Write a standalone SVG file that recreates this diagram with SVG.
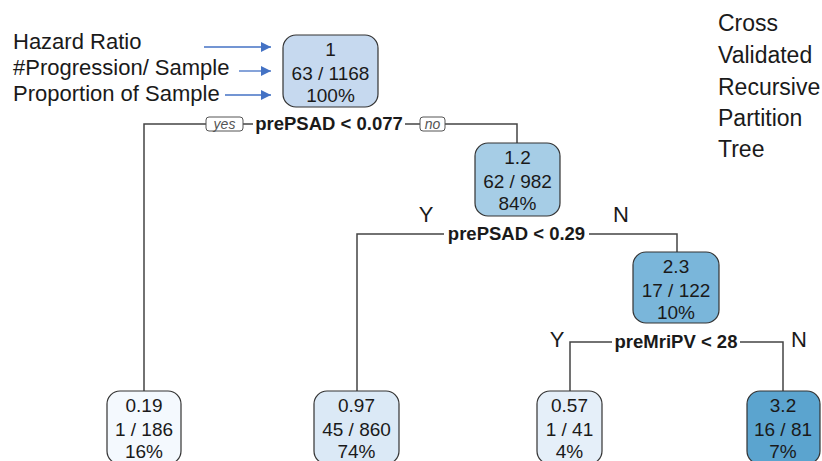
<svg xmlns="http://www.w3.org/2000/svg" width="822" height="461" viewBox="0 0 822 461">
<defs>
<marker id="ah" viewBox="0 0 10 10" refX="10" refY="5" markerWidth="10" markerHeight="10" markerUnits="userSpaceOnUse" orient="auto">
<path d="M0,0 L10,5 L0,10 z" fill="#4472C4"/>
</marker>
<style>
text{font-family:"Liberation Sans",Arial,sans-serif;fill:#1a1a1a}
.lbl{font-size:22px}
.ttl{font-size:23px}
.nt{font-size:19px;text-anchor:middle}
.sp{font-size:18.5px;font-weight:bold;text-anchor:middle}
.yn{font-size:14px;font-style:italic;text-anchor:middle;fill:#555}
.ybox{fill:#fff;stroke:#555;stroke-width:1}
.box{stroke:#333;stroke-width:1.2}
.con{stroke:#444;stroke-width:1.5;fill:none}
.arr{stroke:#4472C4;stroke-width:1.3;marker-end:url(#ah)}
</style>
</defs>
<rect width="822" height="461" fill="#fff"/>
<g id="legend">
<text class="lbl" x="13" y="49">Hazard Ratio</text>
<text class="lbl" x="13" y="75">#Progression/ Sample</text>
<text class="lbl" x="13" y="101">Proportion of Sample</text>
<line class="arr" x1="204" y1="47" x2="271" y2="47"/>
<line class="arr" x1="239" y1="71" x2="271" y2="71"/>
<line class="arr" x1="225" y1="95" x2="271" y2="95"/>
</g>
<g id="title">
<text class="ttl" x="718" y="31">Cross</text>
<text class="ttl" x="718" y="63">Validated</text>
<text class="ttl" x="718" y="95">Recursive</text>
<text class="ttl" x="718" y="126">Partition</text>
<text class="ttl" x="718" y="157">Tree</text>
</g>
<g id="connectors">
<path class="con" d="M144,391 V124 H206 M243,124 H253 M405,124 H420 M445,124 H517 V143"/>
<path class="con" d="M357,391 V234 H444 M589,234 H677 V252"/>
<path class="con" d="M570,391 V342 H612 M740,342 H783 V391"/>
<rect class="ybox" x="206" y="117" width="37" height="14" rx="3"/>
<text class="yn" x="224.5" y="129">yes</text>
<rect class="ybox" x="420" y="117" width="25" height="14" rx="3"/>
<text class="yn" x="432.5" y="129">no</text>
<text class="sp" x="329" y="130">prePSAD &lt; 0.077</text>
<text class="sp" x="516.5" y="240">prePSAD &lt; 0.29</text>
<text class="sp" x="676" y="348">preMriPV &lt; 28</text>
<text class="lbl" x="426" y="222" text-anchor="middle">Y</text>
<text class="lbl" x="621" y="222" text-anchor="middle">N</text>
<text class="lbl" x="557" y="347" text-anchor="middle">Y</text>
<text class="lbl" x="799" y="347" text-anchor="middle">N</text>
</g>
<g id="node1">
<rect class="box" x="283" y="35" width="95" height="72" rx="13" fill="#c6d9ef"/>
<text class="nt" x="330.5" y="56">1</text>
<text class="nt" x="330.5" y="80">63 / 1168</text>
<text class="nt" x="330.5" y="102">100%</text>
</g>
<g id="node2">
<rect class="box" x="475" y="143" width="85" height="73" rx="13" fill="#a6cde6"/>
<text class="nt" x="517.5" y="164">1.2</text>
<text class="nt" x="517.5" y="188">62 / 982</text>
<text class="nt" x="517.5" y="210">84%</text>
</g>
<g id="node3">
<rect class="box" x="633" y="252" width="86" height="71" rx="13" fill="#7ab6da"/>
<text class="nt" x="676" y="273">2.3</text>
<text class="nt" x="676" y="297">17 / 122</text>
<text class="nt" x="676" y="319">10%</text>
</g>
<g id="leaf1">
<rect class="box" x="107" y="391" width="74" height="73" rx="13" fill="#f4f9fe"/>
<text class="nt" x="144" y="412">0.19</text>
<text class="nt" x="144" y="436">1 / 186</text>
<text class="nt" x="144" y="458">16%</text>
</g>
<g id="leaf2">
<rect class="box" x="314" y="391" width="85" height="73" rx="13" fill="#dbe9f6"/>
<text class="nt" x="356.5" y="412">0.97</text>
<text class="nt" x="356.5" y="436">45 / 860</text>
<text class="nt" x="356.5" y="458">74%</text>
</g>
<g id="leaf3">
<rect class="box" x="537" y="391" width="65" height="73" rx="13" fill="#e5eff9"/>
<text class="nt" x="569.5" y="412">0.57</text>
<text class="nt" x="569.5" y="436">1 / 41</text>
<text class="nt" x="569.5" y="458">4%</text>
</g>
<g id="leaf4">
<rect class="box" x="747" y="391" width="73" height="73" rx="13" fill="#5ba4cf"/>
<text class="nt" x="783" y="412">3.2</text>
<text class="nt" x="783" y="436">16 / 81</text>
<text class="nt" x="783" y="458">7%</text>
</g>
</svg>
